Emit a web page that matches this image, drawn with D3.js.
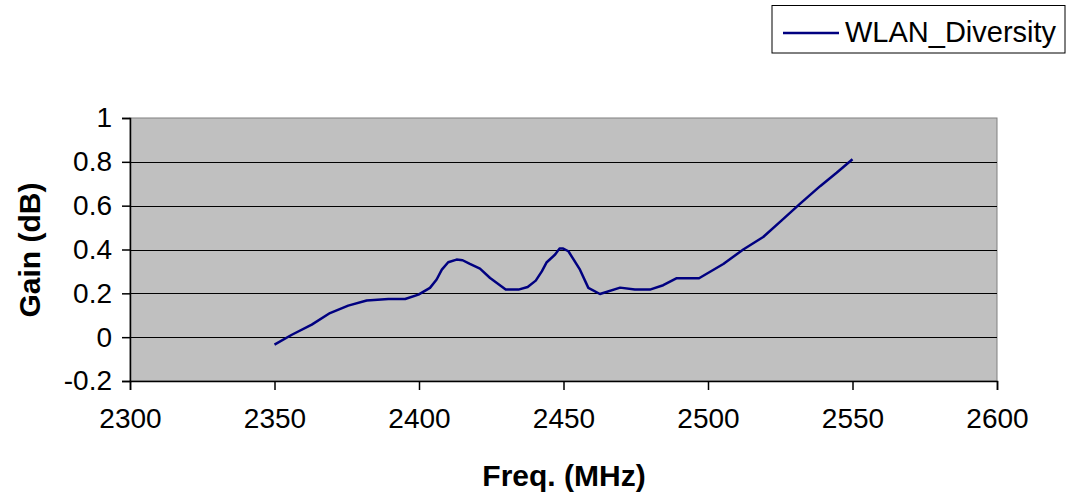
<!DOCTYPE html>
<html><head><meta charset="utf-8">
<script src="https://cdn.jsdelivr.net/npm/d3@7"></script>
<style>body{margin:0;background:#fff;}svg{display:block;font-family:Arial,"Liberation Sans",sans-serif;}</style>
</head><body>
<svg id="c" width="1067" height="494"></svg>
<script>
const seriesName = "WLAN_Diversity";
const freq = [2350,2356,2362.9,2369.2,2375.5,2381.9,2389.4,2395.2,2399.8,2403.8,2406.1,2407.9,2410.1,2413,2415.1,2417.6,2421.1,2424.6,2430,2434.4,2437.6,2440.4,2442.5,2444.2,2447.1,2448.6,2449.9,2451.7,2455.7,2458.6,2462.6,2469.6,2474.7,2479.9,2484.5,2489.2,2496.9,2505.3,2512.2,2519.1,2525.5,2531.8,2538.8,2544.5,2550];
const gain = [-0.034,0.011,0.057,0.11,0.144,0.167,0.174,0.174,0.194,0.225,0.263,0.308,0.342,0.354,0.351,0.334,0.313,0.27,0.217,0.217,0.229,0.258,0.30,0.342,0.377,0.404,0.404,0.392,0.308,0.225,0.197,0.226,0.217,0.217,0.237,0.269,0.269,0.334,0.4,0.457,0.533,0.608,0.689,0.75,0.812];
const xTicks = [2300,2350,2400,2450,2500,2550,2600];
const yTicks = [-0.2,0,0.2,0.4,0.6,0.8,1];
const xTitle = "Freq. (MHz)";
const yTitle = "Gain (dB)";

const svg = d3.select("#c");
const L=130, R=997, T=118, B=381;
const x = d3.scaleLinear().domain([2300,2600]).range([L,R]);
const y = d3.scaleLinear().domain([-0.2,1]).range([B,T]);

svg.append("rect").attr("x",L).attr("y",T).attr("width",R-L).attr("height",B-T)
  .attr("fill","#c0c0c0").attr("stroke","#808080").attr("stroke-width",1);

svg.append("g").selectAll("line").data(yTicks.filter(d=>d>-0.2 && d<1)).join("line")
  .attr("x1",L).attr("x2",R).attr("y1",d=>Math.round(y(d))+0.5).attr("y2",d=>Math.round(y(d))+0.5)
  .attr("stroke","#000").attr("stroke-width",1);

const yAxis = svg.append("g").attr("transform",`translate(${L},0)`)
  .call(d3.axisLeft(y).tickValues(yTicks).tickFormat(d=>String(+d.toFixed(1))).tickSize(8).tickPadding(10));
const xAxis = svg.append("g").attr("transform",`translate(0,${B})`)
  .call(d3.axisBottom(x).tickValues(xTicks).tickFormat(d3.format("d")).tickSize(9).tickPadding(18));
[yAxis,xAxis].forEach(g=>{
  g.select(".domain").attr("stroke","#000").attr("stroke-width",1.5);
  g.selectAll(".tick line").attr("stroke","#000").attr("stroke-width",1.5);
  g.selectAll(".tick text").attr("fill","#000").attr("font-size",28).attr("font-family","Arial, 'Liberation Sans', sans-serif");
});

const line = d3.line().x((d,i)=>x(freq[i])).y(d=>y(d));
svg.append("path").datum(gain).attr("d",line).attr("fill","none")
  .attr("stroke","#000080").attr("stroke-width",2.5).attr("stroke-linejoin","round");

svg.append("text").attr("x",564).attr("y",486).attr("text-anchor","middle")
  .attr("font-size",30).attr("font-weight","bold").text(xTitle);
svg.append("text").attr("transform","translate(40,250) rotate(-90)").attr("text-anchor","middle")
  .attr("font-size",30).attr("font-weight","bold").text(yTitle);

const lg = svg.append("g");
lg.append("rect").attr("x",772).attr("y",5.5).attr("width",293).attr("height",47.5)
  .attr("fill","#fff").attr("stroke","#000").attr("stroke-width",1);
lg.append("line").attr("x1",783).attr("x2",839).attr("y1",33).attr("y2",33)
  .attr("stroke","#000080").attr("stroke-width",2.5);
lg.append("text").attr("x",845).attr("y",42).attr("font-size",29).text(seriesName);
</script>
</body></html>
